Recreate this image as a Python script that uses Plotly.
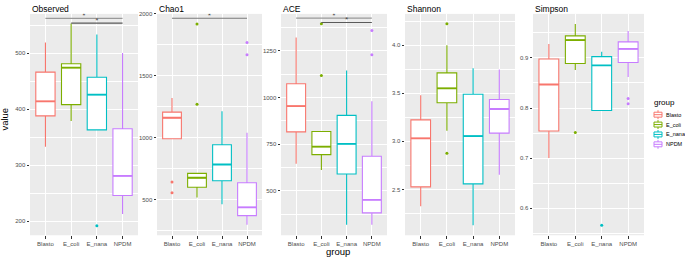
import plotly.graph_objects as go

groups = ["Blasto", "E_coli", "E_nana", "NPDM"]
colors = ["#F8766D", "#7CAE00", "#00BFC4", "#C77CFF"]
metrics = ["Observed", "Chao1", "ACE", "Shannon", "Simpson"]

# box statistics per metric: [Blasto, E_coli, E_nana, NPDM]
obs_lo = [333, 379, 362, 213]
obs_q1 = [388, 408, 363, 246]
obs_med = [414, 474, 426, 281]
obs_q3 = [466, 481, 457, 365]
obs_hi = [519, 553, 533, 500]
obs_out = [[], [], [192], []]

chao_lo = [992, 519, 465, 298]
chao_q1 = [992, 601, 654, 372]
chao_med = [1162, 678, 785, 439]
chao_q3 = [1207, 713, 944, 638]
chao_hi = [1322, 713, 1215, 1040]
chao_out = [[644, 556], [1918, 1271], [], [1769, 1670]]

ace_lo = [645, 611, 318, 318]
ace_q1 = [816, 694, 590, 382]
ace_med = [954, 737, 752, 452]
ace_q3 = [1074, 818, 904, 685]
ace_hi = [1321, 818, 1144, 980]
ace_out = [[], [1395, 1118], [], [1359, 1229]]

sha_lo = [2.325, 3.110, 2.127, 2.654]
sha_q1 = [2.527, 3.401, 2.558, 3.086]
sha_med = [3.031, 3.551, 3.055, 3.336]
sha_q3 = [3.223, 3.712, 3.490, 3.435]
sha_hi = [3.479, 4.000, 3.760, 3.747]
sha_out = [[], [4.223, 2.877], [], []]

sim_lo = [0.700, 0.876, 0.795, 0.862]
sim_q1 = [0.754, 0.889, 0.795, 0.891]
sim_med = [0.847, 0.9355, 0.885, 0.918]
sim_q3 = [0.898, 0.944, 0.9026, 0.932]
sim_hi = [0.9276, 0.968, 0.9125, 0.954]
sim_out = [[], [0.751], [0.566], [0.819, 0.8086]]

# significance brackets: start group index, end group index, height
obs_sig_from = [1, 2]
obs_sig_to = [4, 4]
obs_sig_y = [562, 553.5]
chao_sig_from = [1]
chao_sig_to = [4]
chao_sig_y = [1965]
ace_sig_from = [1, 2]
ace_sig_to = [4, 4]
ace_sig_y = [1425, 1402]

y_ranges = [[175, 570], [214, 2000], [262, 1448], [2.024, 4.325], [0.546, 0.988]]
y_dticks = [100, 500, 250, 0.5, 0.1]
y_formats = ["d", "d", "d", ".1f", ".1f"]

stats = [
    (obs_lo, obs_q1, obs_med, obs_q3, obs_hi, obs_out),
    (chao_lo, chao_q1, chao_med, chao_q3, chao_hi, chao_out),
    (ace_lo, ace_q1, ace_med, ace_q3, ace_hi, ace_out),
    (sha_lo, sha_q1, sha_med, sha_q3, sha_hi, sha_out),
    (sim_lo, sim_q1, sim_med, sim_q3, sim_hi, sim_out),
]
sigs = {0: (obs_sig_from, obs_sig_to, obs_sig_y),
        1: (chao_sig_from, chao_sig_to, chao_sig_y),
        2: (ace_sig_from, ace_sig_to, ace_sig_y)}

W, H = 685, 257
panel_px = [(30, 138), (157, 262), (281, 387), (405, 515), (533, 644)]
top_px, bot_px = 11, 235
ydom = [1 - bot_px / H, 1 - top_px / H]
FONT = "Liberation Sans"

fig = go.Figure()
layout = dict()
for p in range(5):
    sfx = "" if p == 0 else str(p + 1)
    xa, ya = "x" + sfx, "y" + sfx
    lo, q1, med, q3, hi, out = stats[p]
    for g in range(4):
        fig.add_trace(go.Box(
            x=[g + 1], q1=[q1[g]], median=[med[g]], q3=[q3[g]],
            lowerfence=[lo[g]], upperfence=[hi[g]],
            width=0.75, whiskerwidth=0, boxpoints=False,
            fillcolor="white", line=dict(color=colors[g], width=1.1),
            name=groups[g], legendgroup=groups[g], showlegend=False,
            xaxis=xa, yaxis=ya, hoverinfo="skip"))
        # thicker median line like ggplot
        fig.add_trace(go.Scatter(
            x=[g + 1 - 0.375, g + 1 + 0.375], y=[med[g], med[g]],
            mode="lines", line=dict(color=colors[g], width=1.8),
            showlegend=False, xaxis=xa, yaxis=ya, hoverinfo="skip"))
        if out[g]:
            fig.add_trace(go.Scatter(
                x=[g + 1] * len(out[g]), y=out[g], mode="markers",
                marker=dict(color=colors[g], size=3),
                showlegend=False, xaxis=xa, yaxis=ya, hoverinfo="skip"))
    if p in sigs:
        sf, st, sy = sigs[p]
        for k in range(len(sf)):
            col = "#9a9a9a" if (k == 0 and len(sf) > 1) else "#5a5a5a"
            if len(sf) == 1:
                col = "#7a7a7a"
            fig.add_trace(go.Scatter(
                x=[sf[k], st[k]], y=[sy[k], sy[k]], mode="lines",
                line=dict(color=col, width=1.1), showlegend=False,
                xaxis=xa, yaxis=ya, hoverinfo="skip"))
            fig.add_trace(go.Scatter(
                x=[(sf[k] + st[k]) / 2], y=[sy[k]], mode="text", text=["*"],
                textposition="top center",
                textfont=dict(size=6, color="#333333"), showlegend=False,
                xaxis=xa, yaxis=ya, hoverinfo="skip"))
    x0, x1 = panel_px[p]
    layout["xaxis" + sfx] = dict(
        domain=[x0 / W, x1 / W], range=[0.4, 4.6], anchor=ya,
        tickvals=[1, 2, 3, 4], ticktext=groups, showgrid=True,
        gridcolor="white", gridwidth=1, zeroline=False, ticks="outside",
        ticklen=2.5, tickwidth=0.8, tickcolor="#333333",
        tickfont=dict(size=6, color="#4D4D4D", family=FONT),
        fixedrange=True)
    layout["yaxis" + sfx] = dict(
        domain=ydom, range=y_ranges[p], anchor=xa, dtick=y_dticks[p],
        tick0=0, tickformat=y_formats[p], showgrid=True, gridcolor="white",
        gridwidth=1, zeroline=False, ticks="outside", ticklen=2.5,
        tickwidth=0.8, tickcolor="#333333",
        tickfont=dict(size=6, color="#4D4D4D", family=FONT),
        minor=dict(dtick=y_dticks[p] / 2, tick0=0, showgrid=True,
                   gridcolor="white", gridwidth=0.5, ticks=""),
        fixedrange=True)

annotations = []
for p in range(5):
    x0, x1 = panel_px[p]
    annotations.append(dict(
        text=metrics[p], x=x0 / W, y=1 + 1 / H, xref="paper", yref="paper",
        xanchor="left", yanchor="top", showarrow=False,
        font=dict(size=8.5, color="black", family=FONT)))
annotations.append(dict(
    text="value", x=5 / W, y=1 - 118 / H, xref="paper", yref="paper",
    textangle=-90, showarrow=False, xanchor="center", yanchor="middle",
    font=dict(size=9.5, color="black", family=FONT)))
annotations.append(dict(
    text="group", x=338 / W, y=1 - 251 / H, xref="paper", yref="paper",
    showarrow=False, xanchor="center", yanchor="middle",
    font=dict(size=9.5, color="black", family=FONT)))

# legend (ggplot-like, drawn with shapes and annotations)
shapes = []
leg_x0, leg_x1 = 654, 662
leg_title_y = 101
leg_y0, leg_dy = 113, 10
annotations.append(dict(
    text="group", x=652 / W, y=1 - leg_title_y / H, xref="paper",
    yref="paper", xanchor="left", yanchor="middle", showarrow=False,
    font=dict(size=8, color="black", family=FONT)))
for g in range(4):
    cy = leg_y0 + g * leg_dy
    xc = (leg_x0 + leg_x1) / 2
    shapes.append(dict(type="rect", xref="paper", yref="paper",
                       x0=leg_x0 / W, x1=leg_x1 / W,
                       y0=1 - (cy + 2.5) / H, y1=1 - (cy - 2.5) / H,
                       line=dict(color=colors[g], width=1), fillcolor="white"))
    shapes.append(dict(type="line", xref="paper", yref="paper",
                       x0=leg_x0 / W, x1=leg_x1 / W,
                       y0=1 - cy / H, y1=1 - cy / H,
                       line=dict(color=colors[g], width=1)))
    shapes.append(dict(type="line", xref="paper", yref="paper",
                       x0=xc / W, x1=xc / W,
                       y0=1 - (cy - 4.5) / H, y1=1 - (cy - 2.5) / H,
                       line=dict(color=colors[g], width=1)))
    shapes.append(dict(type="line", xref="paper", yref="paper",
                       x0=xc / W, x1=xc / W,
                       y0=1 - (cy + 2.5) / H, y1=1 - (cy + 4.5) / H,
                       line=dict(color=colors[g], width=1)))
    annotations.append(dict(
        text=groups[g], x=664 / W, y=1 - cy / H, xref="paper", yref="paper",
        xanchor="left", yanchor="middle", showarrow=False,
        font=dict(size=5.5, color="black", family=FONT)))

fig.update_layout(
    width=W, height=H, margin=dict(l=0, r=0, t=0, b=0),
    plot_bgcolor="#EBEBEB", paper_bgcolor="white",
    boxmode="overlay", annotations=annotations, shapes=shapes,
    showlegend=False, **layout)

fig.write_html("out.html", config={"displayModeBar": False},
               post_script="document.body.style.margin='0px';")
